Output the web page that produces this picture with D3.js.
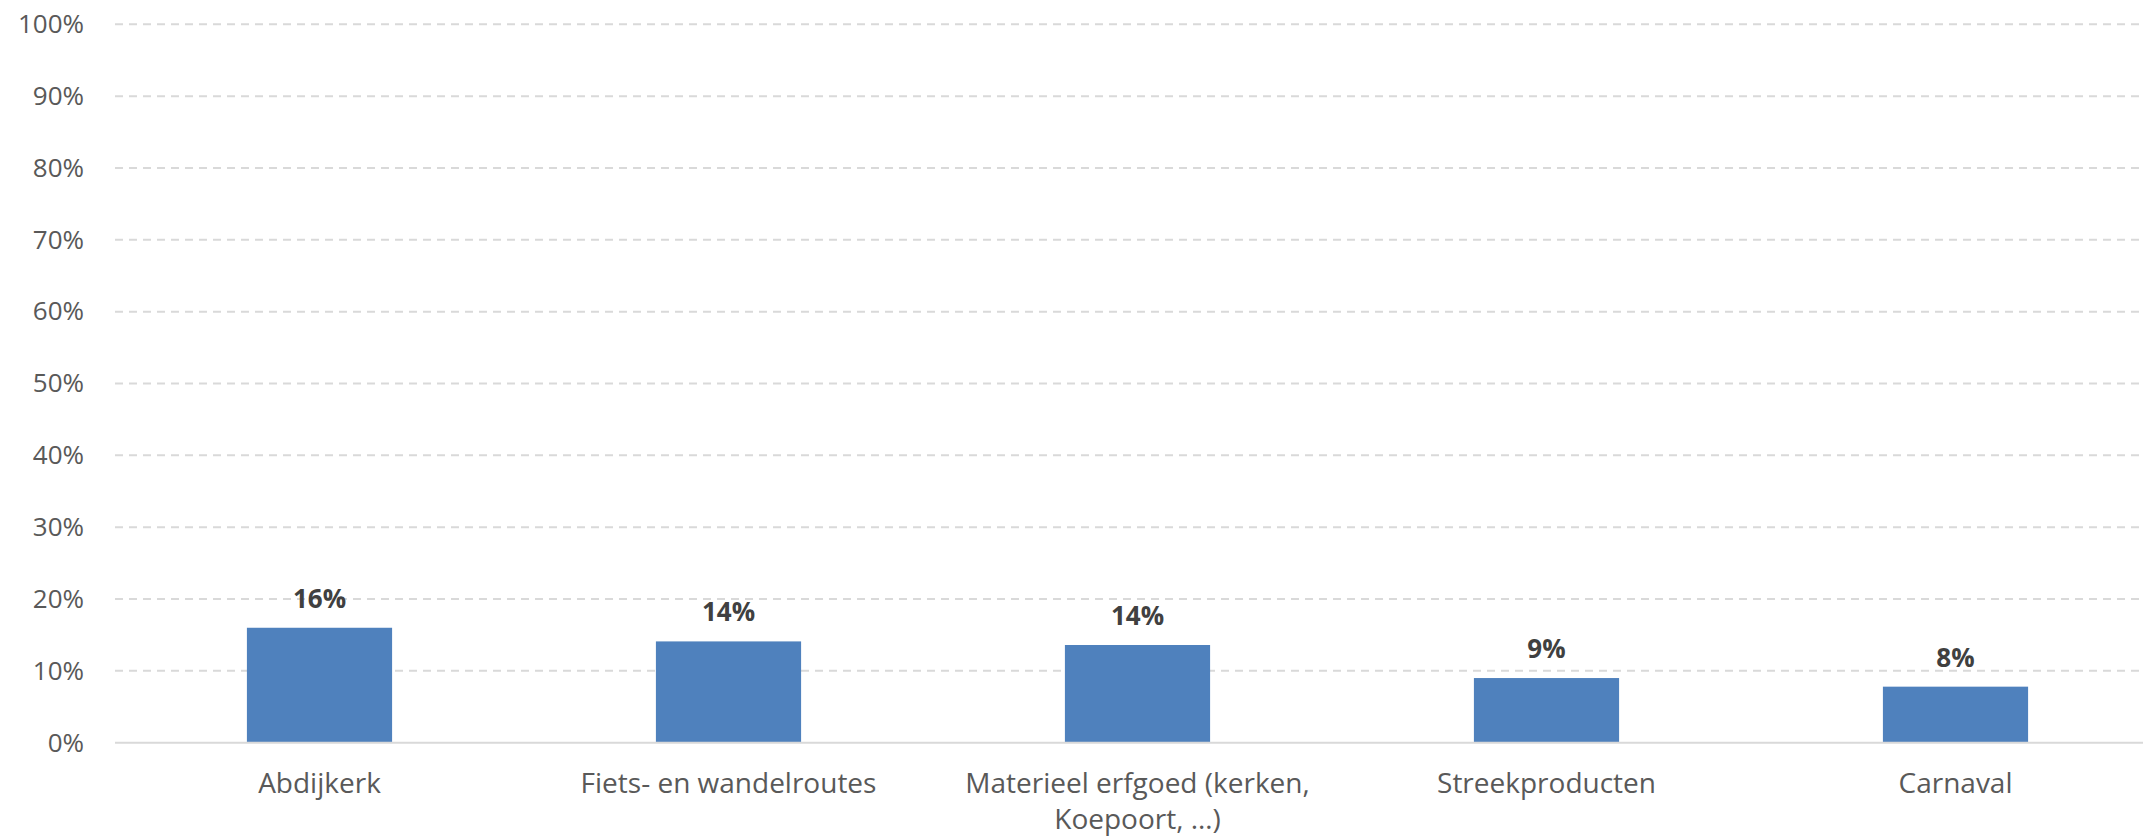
<!DOCTYPE html>
<html>
<head>
<meta charset="utf-8">
<script src="https://cdn.jsdelivr.net/npm/d3@7"></script>
<style>
  html, body { margin: 0; padding: 0; background: #ffffff; overflow: hidden; }
  svg { display: block; }
</style>
</head>
<body>
<svg id="chart" width="2143" height="839"></svg>
<script>
// ---- Data ----
const categories = ["Abdijkerk", "Fiets- en wandelroutes", "Materieel erfgoed (kerken, Koepoort, …)", "Streekproducten", "Carnaval"];
const values = [0.160, 0.141, 0.136, 0.090, 0.078];
const valueLabels = ["16%", "14%", "14%", "9%", "8%"];
const yTicks = [0, 0.1, 0.2, 0.3, 0.4, 0.5, 0.6, 0.7, 0.8, 0.9, 1.0];

// ---- Layout ----
const W = 2143, H = 839;
const plotLeft = 115, plotRight = 2160, plotTop = 24.3, plotBottom = 742.7;
const FONT = "'Open Sans', 'Noto Sans', sans-serif";

const svg = d3.select("#chart");

const x = d3.scaleBand()
  .domain(categories)
  .range([plotLeft, plotRight])
  .paddingInner(0.645)
  .paddingOuter(0.3225);

const y = d3.scaleLinear().domain([0, 1]).range([plotBottom, plotTop]);

// Gridlines (dashed)
svg.append("g")
  .selectAll("line")
  .data(yTicks.filter(d => d > 0))
  .join("line")
  .attr("x1", plotLeft)
  .attr("x2", W)
  .attr("y1", d => y(d))
  .attr("y2", d => y(d))
  .attr("stroke", "#d9d9d9")
  .attr("stroke-width", 2)
  .attr("stroke-dasharray", "8,6");

// Y axis labels
const yAxis = svg.append("g")
  .attr("transform", `translate(${plotLeft},0)`)
  .call(d3.axisLeft(y).tickValues(yTicks).tickFormat(d3.format(".0%")).tickSize(0).tickPadding(31));
yAxis.select(".domain").remove();
yAxis.selectAll("text")
  .attr("fill", "#595959")
  .style("font-family", FONT)
  .style("font-size", "26px");

// Bars
svg.append("g")
  .selectAll("rect")
  .data(values)
  .join("rect")
  .attr("x", (d, i) => x(categories[i]))
  .attr("width", x.bandwidth())
  .attr("y", d => y(d))
  .attr("height", d => y(0) - y(d))
  .attr("fill", "#4f81bd");

// Baseline
svg.append("line")
  .attr("x1", plotLeft).attr("x2", W)
  .attr("y1", y(0)).attr("y2", y(0))
  .attr("stroke", "#d9d9d9").attr("stroke-width", 2);

// Value labels
svg.append("g")
  .selectAll("text")
  .data(values)
  .join("text")
  .attr("x", (d, i) => x(categories[i]) + x.bandwidth() / 2)
  .attr("y", d => y(d) - 20)
  .attr("text-anchor", "middle")
  .attr("fill", "#404040")
  .style("font-family", FONT)
  .style("font-weight", "bold")
  .style("font-size", "26px")
  .text((d, i) => valueLabels[i]);

// X axis labels
const xAxis = svg.append("g")
  .attr("transform", `translate(0,${plotBottom})`)
  .call(d3.axisBottom(x).tickSize(0).tickPadding(0));
xAxis.select(".domain").remove();
xAxis.selectAll("text")
  .attr("fill", "#595959")
  .style("font-family", FONT)
  .style("font-size", "28px")
  .attr("dy", null)
  .attr("y", 50)
  .each(function(d) {
    const t = d3.select(this);
    const words = d.split(" ");
    t.text(null);
    const maxW = 390;
    let line = [];
    let lines = [];
    const probe = t.append("tspan");
    words.forEach(w => {
      const test = line.concat([w]).join(" ");
      probe.text(test);
      if (probe.node().getComputedTextLength() > maxW && line.length) {
        lines.push(line.join(" "));
        line = [w];
      } else {
        line.push(w);
      }
    });
    lines.push(line.join(" "));
    probe.remove();
    lines.forEach((l, i) => {
      t.append("tspan").attr("x", 0).attr("y", 50 + i * 36).text(l);
    });
  });
</script>
</body>
</html>
